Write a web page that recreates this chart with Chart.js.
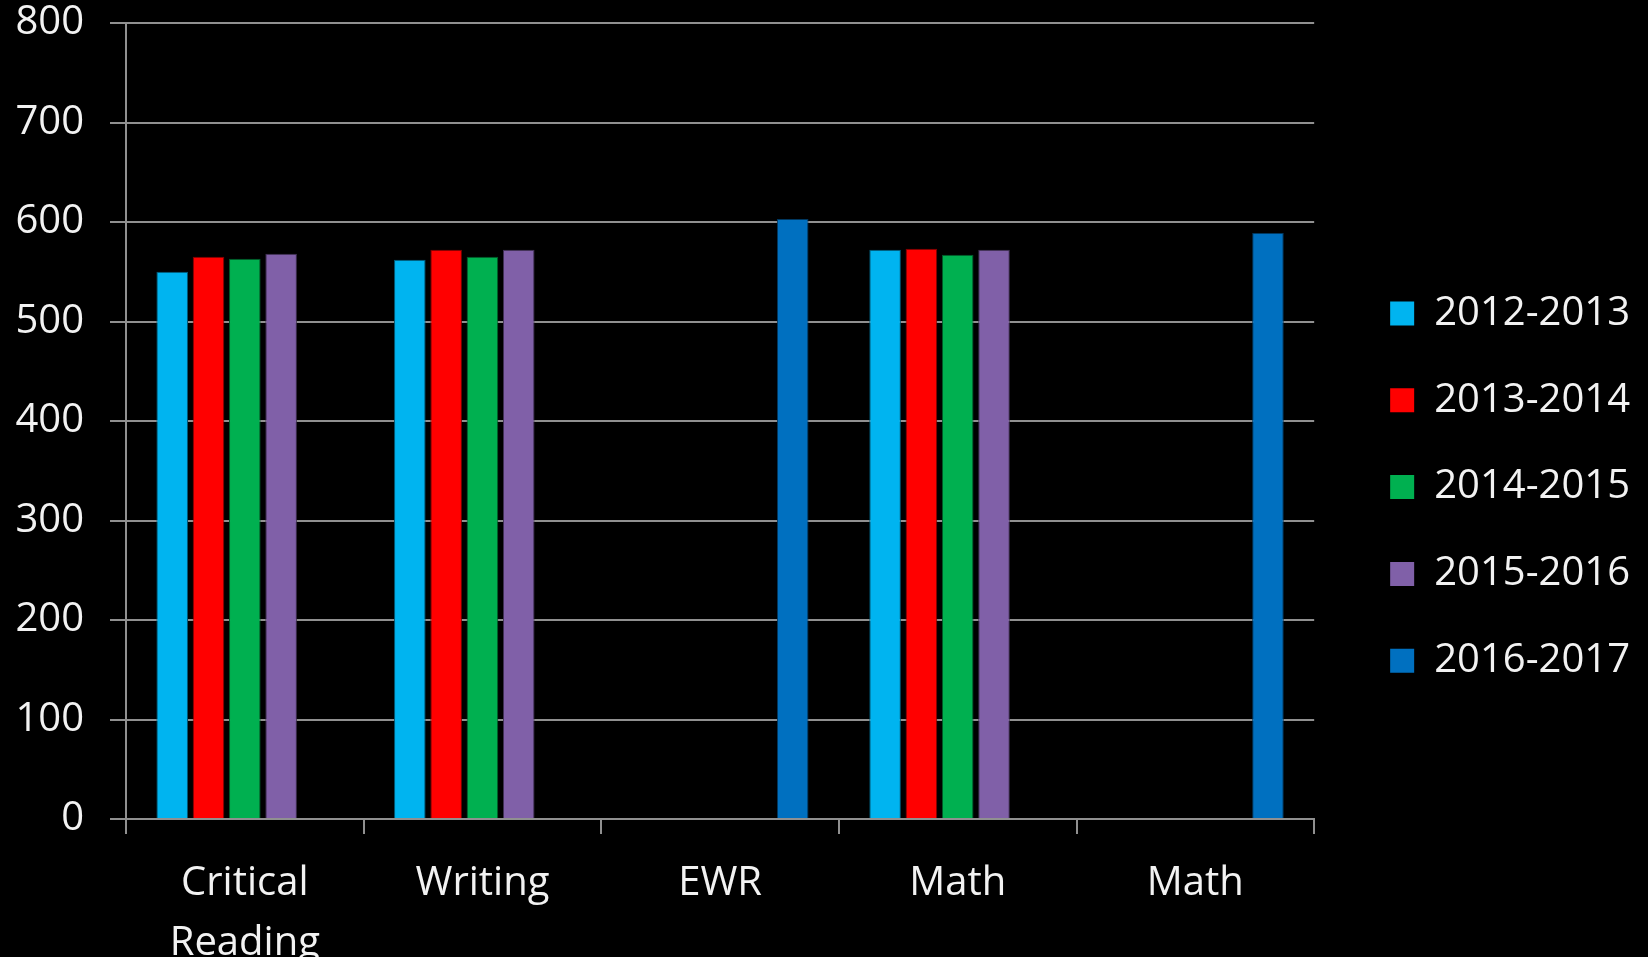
<!DOCTYPE html>
<html lang="en">
<head>
    <meta charset="UTF-8">
    <title>SAT Scores</title>
    <script src="https://cdn.jsdelivr.net/npm/chart.js"></script>
    <style>
        html, body { margin: 0; padding: 0; background: #000; }
        canvas { display: block; }
    </style>
</head>
<body>
    <canvas id="chart_scores" width="1648" height="957"></canvas>

    <script>
        // categories and series
        const categories = [['Critical', 'Reading'], 'Writing', 'EWR', 'Math', 'Math'];
        const seriesNames = ['2012-2013', '2013-2014', '2014-2015', '2015-2016', '2016-2017'];
        const s2012 = [550, 562, null, 572, null];
        const s2013 = [565, 572, null, 573, null];
        const s2014 = [563, 565, null, 567, null];
        const s2015 = [568, 572, null, 572, null];
        const s2016 = [null, null, 603, null, 589];
        const yTicks = [0, 100, 200, 300, 400, 500, 600, 700, 800];

        const colors = ['#00b4f0', '#ff0000', '#00b050', '#8060a8', '#0070c0'];
        const edges = ['#005a78', '#800000', '#005828', '#403054', '#003860'];
        const values = [s2012, s2013, s2014, s2015, s2016];

        const gridGray = '#909090';
        const textColor = '#f2f2f2';
        const fontFamily = '"Open Sans", "DejaVu Sans", sans-serif';

        const ctx = document.getElementById('chart_scores').getContext('2d');
        new Chart(ctx, {
            type: 'bar',
            data: {
                labels: categories,
                datasets: seriesNames.map((name, i) => ({
                    label: name,
                    data: values[i],
                    backgroundColor: colors[i],
                    borderColor: edges[i],
                    borderWidth: 1,
                    borderSkipped: 'bottom',
                    categoryPercentage: 0.764,
                    barPercentage: 0.87
                }))
            },
            options: {
                responsive: false,
                animation: false,
                layout: { padding: { left: 0, top: -12, right: 8, bottom: 0 } },
                plugins: {
                    tooltip: { enabled: false },
                    legend: {
                        position: 'right',
                        align: 'center',
                        labels: {
                            color: textColor,
                            boxWidth: 24,
                            boxHeight: 24,
                            padding: 76,
                            font: { family: fontFamily, size: 40, lineHeight: 0.27 },
                            // text as array so the row height follows the font lineHeight
                            generateLabels: (chart) => {
                                const items = Chart.defaults.plugins.legend.labels.generateLabels(chart);
                                items.forEach(it => { it.text = [it.text]; it.lineWidth = 0; });
                                return items;
                            }
                        }
                    }
                },
                scales: {
                    x: {
                        grid: {
                            display: true,
                            drawOnChartArea: false,
                            drawTicks: true,
                            tickLength: 15,
                            color: gridGray,
                            lineWidth: 2
                        },
                        border: { color: gridGray, width: 2 },
                        ticks: {
                            color: textColor,
                            padding: 20,
                            maxRotation: 0,
                            autoSkip: false,
                            font: { family: fontFamily, size: 40, lineHeight: 1.5 }
                        },
                        afterFit: (scale) => { scale.height = 138; }
                    },
                    y: {
                        min: yTicks[0],
                        max: yTicks[yTicks.length - 1],
                        grid: {
                            color: gridGray,
                            lineWidth: 2,
                            drawTicks: true,
                            tickLength: 16
                        },
                        border: { color: gridGray, width: 2 },
                        ticks: {
                            color: textColor,
                            padding: 26,
                            stepSize: 100,
                            font: { family: fontFamily, size: 40, lineHeight: 1.2 }
                        },
                        afterFit: (scale) => {
                            scale.width = 126;
                            scale.paddingTop = 23;
                            scale.paddingBottom = 0;
                        }
                    }
                }
            }
        });
    </script>
</body>
</html>
